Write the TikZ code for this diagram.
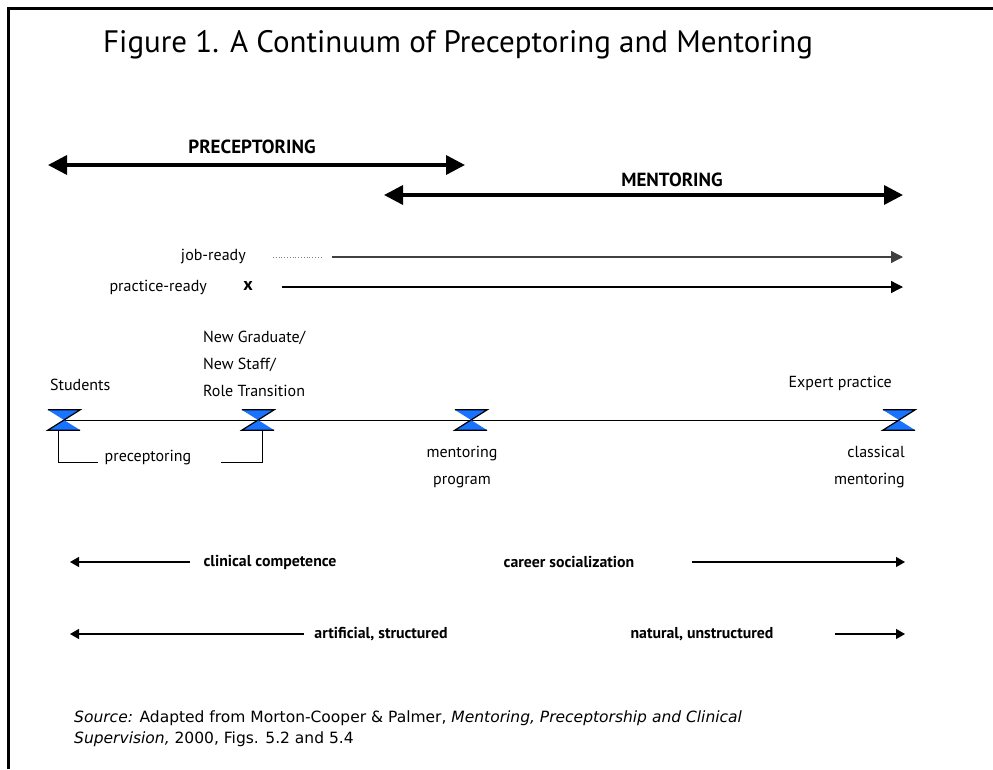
\documentclass[tikz,border=0pt]{standalone}
\usepackage{fontspec}
\setmainfont{PT Sans}
\newfontfamily\sourcefont{DejaVu Sans}
\usetikzlibrary{arrows.meta, positioning, calc}
\definecolor{hourblue}{RGB}{25,115,255}

\begin{document}
\begin{tikzpicture}[x=1pt, y=-1pt,
        every node/.style={inner sep=0pt},
        lbl/.style={font=\fontsize{16}{27}\selectfont},
        boldlbl/.style={font=\bfseries\fontsize{15.8}{18}\selectfont},
        phase/.style={font=\bfseries\fontsize{19}{22}\selectfont},
        hourglass/.style={minimum width=32pt, minimum height=20pt},
        bigarrow/.style={line width=3.5pt, {Triangle[length=19pt,width=19pt]}-{Triangle[length=19pt,width=19pt]}},
        thinarrow/.style={line width=1.3pt, -{Triangle[length=12pt,width=12pt]}},
        smallarrow/.style={line width=1.2pt, -{Triangle[length=9pt,width=10pt]}}]
        \useasboundingbox (0,0) rectangle (993,769);

        % Frame (left and top only)
        \draw [line width=3pt] (8,769) -- (8,8) -- (993,8);

        % Title
        \node[anchor=base west, font=\fontsize{31}{36}\selectfont] (title) at (103,52) {Figure 1. A Continuum of Preceptoring and Mentoring};

        % Preceptoring and mentoring spans
        \node[phase] (prectxt) at (252,147) {PRECEPTORING};
        \coordinate (precL) at (48,165);
        \coordinate (precR) at (465,165);
        \draw [bigarrow] (precL) -- (precR);

        \node[phase] (menttxt) at (672,180) {MENTORING};
        \coordinate (mentL) at (384,195);
        \coordinate (mentR) at (903,195);
        \draw [bigarrow] (mentL) -- (mentR);

        % Readiness lines
        \node[lbl, anchor=east] (jobtxt) at (246,257) {job-ready};
        \coordinate (dotA) at (273,257);
        \coordinate (dotB) at (323,257);
        \coordinate (jobA) at (332,257);
        \coordinate (jobB) at (903,257);
        \draw [gray, dotted, line width=0.8pt] (dotA) -- (dotB);
        \draw [thinarrow, black!75] (jobA) -- (jobB);

        \node[lbl, anchor=east] (practxt) at (207,287) {practice-ready};
        \node[font=\bfseries\fontsize{18}{20}\selectfont] (xmark) at (248,286) {x};
        \coordinate (pracA) at (282,287);
        \coordinate (pracB) at (903,287);
        \draw [thinarrow] (pracA) -- (pracB);

        % Stages on the continuum
        \node[hourglass] (stud) at (64,420) {};
        \node[hourglass] (grad) at (258,420) {};
        \node[hourglass] (prog) at (471,420) {};
        \node[hourglass] (expt) at (899,420) {};
        \draw [line width=1pt] (stud.center) -- (expt.center);
        \foreach \m in {stud,grad,prog,expt} {
            \fill [hourblue] (\m.north west) -- (\m.north east) -- (\m.south west) -- (\m.south east) -- cycle;
            \draw [line width=1.2pt] (\m.north west) -- (\m.north east) -- (\m.south west) -- (\m.south east);
        }

        \node[lbl, anchor=west] (studtxt) at (50,385) {Students};
        \node[lbl, anchor=west, align=left] (gradtxt) at (203,364) {New Graduate/\\New Staff/\\Role Transition};
        \node[lbl, anchor=east] (expttxt) at (892,383) {Expert practice};
        \node[lbl, align=center] (progtxt) at (462,467) {mentoring\\program};
        \node[lbl, anchor=east, align=right] (classtxt) at (905,467) {classical\\mentoring};

        % Preceptoring bracket
        \node[lbl] (prectag) at (148,458) {preceptoring};
        \coordinate (brL) at (98,462);
        \coordinate (brR) at (221,462);
        \draw [line width=1pt] ([xshift=-6pt]stud.south) |- (brL);
        \draw [line width=1pt] (brR) -| ([xshift=4pt]grad.south);

        % Competence and structure rows
        \coordinate (clinA) at (190,562);
        \coordinate (clinB) at (70,562);
        \draw [smallarrow] (clinA) -- (clinB);
        \node[boldlbl] (clintxt) at (270,562) {clinical competence};
        \node[boldlbl] (cartxt) at (569,562) {career socialization};
        \coordinate (carA) at (692,562);
        \coordinate (carB) at (905,562);
        \draw [smallarrow] (carA) -- (carB);

        \coordinate (artA) at (304,634);
        \coordinate (artB) at (70,634);
        \draw [smallarrow] (artA) -- (artB);
        \node[boldlbl] (arttxt) at (381,634) {artificial, structured};
        \node[boldlbl] (nattxt) at (702,634) {natural, unstructured};
        \coordinate (natA) at (835,634);
        \coordinate (natB) at (905,634);
        \draw [smallarrow] (natA) -- (natB);

        % Source note
        \node[anchor=north west, align=left, font=\sourcefont\fontsize{15.5}{21}\selectfont] (source) at (74,711)
            {\textit{Source:} Adapted from Morton-Cooper \& Palmer, \textit{Mentoring, Preceptorship and Clinical}\\\textit{Supervision,} 2000, Figs. 5.2 and 5.4};

    \end{tikzpicture}
\end{document}
